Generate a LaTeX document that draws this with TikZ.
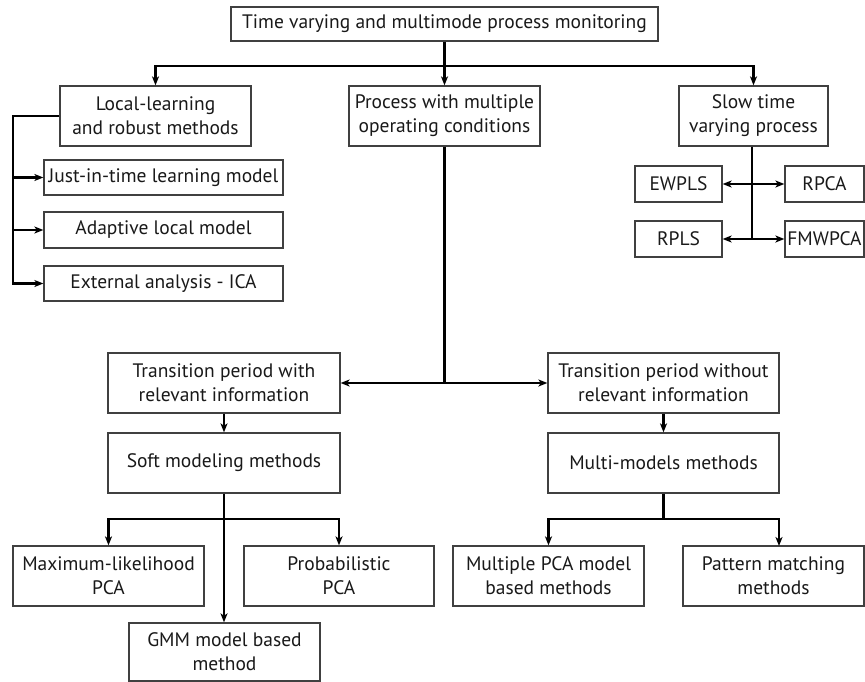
\documentclass[tikz,border=0pt]{standalone}
\usepackage{fontspec}
\setmainfont{PT Sans}
\usetikzlibrary{arrows.meta,calc}
\tikzset{
  box/.style={draw=black!75, line width=1.3pt, fill=white, align=center, inner sep=0pt,
    font=\fontsize{19.5}{24}\selectfont, text=black!90},
  conn/.style={line width=2.1pt, black},
  arr/.style={conn, -{Stealth[length=9pt,width=7pt,inset=2.5pt]}},
}
\newcommand{\bx}[6]{\node[box, minimum width=#3pt, minimum height=#4pt] (#1) at (#2) {#6};}
\begin{document}
\begin{tikzpicture}[x=1pt,y=-1pt]
\useasboundingbox (0,0) rectangle (865,682);
\begin{scope}
\clip (0,0) rectangle (865,682);
\bx{top}{444.5,24}{427}{34}{}{Time varying and multimode process monitoring}
\bx{loc}{155.5,116}{191}{60}{}{Local-learning\\and robust methods}
\bx{proc}{444.5,116}{191}{60}{}{Process with multiple\\operating conditions}
\bx{slow}{753.5,116}{149}{60}{}{Slow time\\varying process}
\bx{jit}{163.5,177.5}{239}{35}{}{Just-in-time learning model}
\bx{ada}{163.5,230}{239}{36}{}{Adaptive local model}
\bx{ext}{163.5,283.5}{239}{35}{}{External analysis - ICA}
\bx{ewpls}{678.5,184}{87}{36}{}{EWPLS}
\bx{rpca}{824.5,184}{79}{36}{}{RPCA}
\bx{rpls}{678.5,239}{87}{36}{}{RPLS}
\bx{fmw}{824.5,239}{79}{36}{}{FMWPCA}
\bx{tw}{224,383}{232}{60}{}{Transition period with\\relevant information}
\bx{two}{663.5,383}{231}{60}{}{Transition period without\\relevant information}
\bx{soft}{224,463}{232}{60}{}{Soft modeling methods}
\bx{multi}{663.5,463}{231}{60}{}{Multi-models methods}
\bx{ml}{108.5,576}{191}{60}{}{Maximum-likelihood\\PCA}
\bx{prob}{339,576}{190}{60}{}{Probabilistic\\PCA}
\bx{gmm}{224.5,652}{191}{58}{}{GMM model based\\method}
\bx{mpca}{548.5,576}{191}{60}{}{Multiple PCA model\\based methods}
\bx{pat}{773.5,576}{181}{60}{}{Pattern matching\\methods}
\end{scope}
% top level
\coordinate (busT) at (444.5,66);
\draw[arr] (top.south) -- (proc.north);
\draw[arr] (busT) -| (loc.north);
\draw[arr] (busT) -| (slow.north);
% local learning
\coordinate (lx) at (13,116);
\draw[arr] (loc.west) -- (lx) |- (ext.west);
\draw[arr] (lx |- jit.west) -- (jit.west);
\draw[arr] (lx |- ada.west) -- (ada.west);
% slow time varying
\coordinate (sx1) at (752,184);
\coordinate (sx2) at (752,239);
\draw[conn] (slow.south -| sx1) -- (sx2);
\draw[arr] (sx1) -- (ewpls.east);
\draw[arr] (sx1) -- (rpca.west);
\draw[arr] (sx2) -- (rpls.east);
\draw[arr] (sx2) -- (fmw.west);
% multiple operating conditions
\coordinate (px) at (444.5,383);
\draw[conn] (proc.south) -- (px);
\draw[arr] (px) -- (tw.east);
\draw[arr] (px) -- (two.west);
\draw[arr] (tw.south) -- (soft.north);
\draw[arr] (two.south) -- (multi.north);
% soft modeling
\coordinate (sb) at (224,519);
\draw[arr] (soft.south) -- (gmm.north -| soft.south);
\draw[arr] (sb) -| (ml.north);
\draw[arr] (sb) -| (prob.north);
% multi-models
\coordinate (mb) at (663.5,519);
\coordinate (pe) at (779,546);
\draw[conn] (multi.south) -- (mb);
\draw[arr] (mb) -| (mpca.north);
\draw[arr] (mb) -| (pe);
\end{tikzpicture}
\end{document}
